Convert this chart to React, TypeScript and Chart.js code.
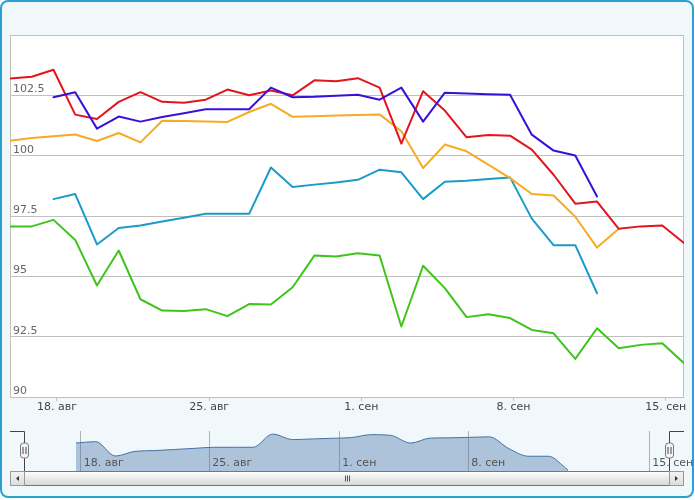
import { useEffect, useRef } from 'react';
import { Chart, registerables } from 'chart.js';

Chart.register(...registerables);

// daily values, one slot per day on the ordinal axis (null = no quote that day)
const redValues = [103.2, 103.27, 103.56, 101.7, 101.52, 102.23, 102.63, 102.23, 102.19, 102.32, 102.74, 102.5, 102.7, 102.5, 103.12, 103.08, 103.21, 102.82, 100.5, 102.67, 101.87, 100.76, 100.86, 100.83, 100.25, 99.21, 98.01, 98.1, 96.97, 97.07, 97.11, 96.38];
const blueValues = [null, null, 102.42, 102.63, 101.12, 101.62, 101.41, 101.6, 101.76, 101.92, 101.92, 101.92, 102.82, 102.42, 102.44, 102.48, 102.52, 102.32, 102.82, 101.41, 102.61, 102.58, 102.55, 102.52, 100.87, 100.21, 100.01, 98.31, null, null, null, null];
const orangeValues = [100.62, 100.73, 100.8, 100.88, 100.61, 100.94, 100.55, 101.45, 101.44, 101.42, 101.4, 101.81, 102.15, 101.61, 101.63, 101.66, 101.69, 101.71, 101.01, 99.49, 100.46, 100.18, 99.63, 99.07, 98.41, 98.35, 97.47, 96.19, 96.97, null, null, null];
const tealValues = [null, null, 98.2, 98.41, 96.32, 97.0, 97.11, 97.27, 97.43, 97.59, 97.59, 97.59, 99.51, 98.7, 98.8, 98.89, 99.0, 99.42, 99.31, 98.2, 98.92, 98.96, 99.03, 99.1, 97.39, 96.29, 96.29, 94.3, null, null, null, null];
const greenValues = [97.07, 97.07, 97.34, 96.51, 94.62, 96.07, 94.05, 93.58, 93.56, 93.64, 93.35, 93.85, 93.83, 94.55, 95.86, 95.82, 95.96, 95.86, 92.92, 95.44, 94.51, 93.31, 93.43, 93.27, 92.78, 92.64, 91.58, 92.85, 92.02, 92.16, 92.23, 91.4];

const xTickPositions = [2.16, 9.16, 16.16, 23.16, 30.16];
const xTickLabels = ['18. авг', '25. авг', '1. сен', '8. сен', '15. сен'];
const navTickPositions = [2.24, 8.77, 15.38, 21.93, 31.13];

const FONT = '"DejaVu Sans", Verdana, sans-serif';

const toPoints = (vals: (number | null)[]) => vals.map((y, x) => ({ x, y }));

const line = (data: (number | null)[], color: string) => ({
  data: toPoints(data),
  borderColor: color,
  backgroundColor: color,
  borderWidth: 2,
  pointRadius: 0,
  tension: 0,
  fill: false,
  borderJoinStyle: 'round' as const,
  borderCapStyle: 'round' as const,
});

const plotFrame = {
  id: 'plotFrame',
  beforeDraw(chart: any) {
    const { ctx, chartArea: a } = chart;
    ctx.save();
    ctx.fillStyle = '#ffffff';
    ctx.fillRect(a.left, a.top, a.width, a.height);
    ctx.strokeStyle = '#c0c0c0';
    ctx.lineWidth = 1;
    ctx.strokeRect(Math.round(a.left) + 0.5, Math.round(a.top) + 0.5, Math.round(a.width) - 1, Math.round(a.height));
    ctx.restore();
  },
};

function drawHandle(ctx: CanvasRenderingContext2D, cx: number, top: number) {
  ctx.beginPath();
  ctx.roundRect(cx - 4, top, 8, 15, 3);
  ctx.fillStyle = '#f4f4f4';
  ctx.fill();
  ctx.strokeStyle = '#777';
  ctx.stroke();
  ctx.beginPath();
  ctx.moveTo(cx - 1.5, top + 4);
  ctx.lineTo(cx - 1.5, top + 11);
  ctx.moveTo(cx + 1.5, top + 4);
  ctx.lineTo(cx + 1.5, top + 11);
  ctx.strokeStyle = '#444';
  ctx.stroke();
}

const navigatorDecor = {
  id: 'navigatorDecor',
  afterDatasetsDraw(chart: any) {
    const { ctx, chartArea: a, scales } = chart;
    ctx.save();
    ctx.font = `11px ${FONT}`;
    ctx.fillStyle = '#555';
    ctx.textAlign = 'left';
    ctx.textBaseline = 'middle';
    navTickPositions.forEach((v, i) => {
      ctx.fillText(xTickLabels[i], scales.x.getPixelForValue(v) + 3, a.bottom - 8);
    });

    const lh = Math.round(a.left) + 14.5;
    const rh = Math.round(a.right) - 14.5;
    const top = Math.round(a.top) + 0.5;
    const bottom = Math.round(a.bottom);
    ctx.strokeStyle = '#444';
    ctx.lineWidth = 1;
    ctx.beginPath();
    ctx.moveTo(a.left, top);
    ctx.lineTo(lh, top);
    ctx.lineTo(lh, bottom);
    ctx.moveTo(a.right, top);
    ctx.lineTo(rh, top);
    ctx.lineTo(rh, bottom);
    ctx.stroke();

    // scrollbar
    const sy = bottom + 0.5;
    const sh = 14;
    const left = Math.round(a.left) + 0.5;
    const right = Math.round(a.right) - 0.5;
    const track = ctx.createLinearGradient(0, sy, 0, sy + sh);
    track.addColorStop(0, '#eeeeee');
    track.addColorStop(1, '#ffffff');
    ctx.fillStyle = track;
    ctx.fillRect(left, sy, right - left, sh);
    ctx.strokeStyle = '#999';
    ctx.strokeRect(left, sy, right - left, sh);

    const thumb = ctx.createLinearGradient(0, sy, 0, sy + sh);
    thumb.addColorStop(0, '#ffffff');
    thumb.addColorStop(1, '#d6d6d6');
    ctx.fillStyle = thumb;
    ctx.fillRect(lh, sy, rh - lh, sh);
    ctx.strokeStyle = '#777';
    ctx.strokeRect(lh, sy, rh - lh, sh);

    const btn = ctx.createLinearGradient(0, sy, 0, sy + sh);
    btn.addColorStop(0, '#f4f4f4');
    btn.addColorStop(1, '#dcdcdc');
    ctx.fillStyle = btn;
    ctx.fillRect(left, sy, lh - left, sh);
    ctx.fillRect(rh, sy, right - rh, sh);
    ctx.strokeStyle = '#999';
    ctx.strokeRect(left, sy, lh - left, sh);
    ctx.strokeRect(rh, sy, right - rh, sh);

    ctx.fillStyle = '#333';
    const my = sy + sh / 2;
    const lc = (left + lh) / 2;
    const rc = (rh + right) / 2;
    ctx.beginPath();
    ctx.moveTo(lc - 1.5, my);
    ctx.lineTo(lc + 1.5, my - 2.5);
    ctx.lineTo(lc + 1.5, my + 2.5);
    ctx.closePath();
    ctx.fill();
    ctx.beginPath();
    ctx.moveTo(rc + 1.5, my);
    ctx.lineTo(rc - 1.5, my - 2.5);
    ctx.lineTo(rc - 1.5, my + 2.5);
    ctx.closePath();
    ctx.fill();

    const gc = Math.round((lh + rh) / 2) + 0.5;
    ctx.strokeStyle = '#555';
    ctx.beginPath();
    [-2, 0, 2].forEach((d) => {
      ctx.moveTo(gc + d, my - 3);
      ctx.lineTo(gc + d, my + 3);
    });
    ctx.stroke();

    drawHandle(ctx, lh, top + 11.5);
    drawHandle(ctx, rh, top + 11.5);
    ctx.restore();
  },
};

export default function App() {
  const mainRef = useRef<HTMLCanvasElement>(null);
  const navRef = useRef<HTMLCanvasElement>(null);

  useEffect(() => {
    if (!mainRef.current || !navRef.current) return;

    const main = new Chart(mainRef.current, {
      type: 'line',
      data: {
        datasets: [
          line(blueValues, '#3a10d8'),
          line(redValues, '#e2141c'),
          line(orangeValues, '#f6ab22'),
          line(tealValues, '#1b9bc8'),
          line(greenValues, '#3fc41b'),
        ],
      },
      options: {
        animation: false,
        responsive: false,
        layout: { padding: { left: 10, right: 11, top: 35, bottom: 0 } },
        plugins: { legend: { display: false }, tooltip: { enabled: false } },
        scales: {
          x: {
            type: 'linear',
            min: 0,
            max: 31,
            afterBuildTicks: (axis: any) => {
              axis.ticks = xTickPositions.map((value) => ({ value }));
            },
            afterFit: (axis: any) => {
              axis.height = 23;
            },
            grid: { drawOnChartArea: false, drawTicks: true, tickLength: 4, color: '#c0c0c0' },
            border: { display: false },
            ticks: {
              autoSkip: false,
              maxRotation: 0,
              padding: 0,
              color: '#444',
              font: { family: FONT, size: 11 },
              callback: (_v: any, i: number) => xTickLabels[i],
            },
          },
          y: {
            min: 90,
            max: 105,
            afterFit: (axis: any) => {
              axis.width = 0;
            },
            ticks: {
              stepSize: 2.5,
              mirror: true,
              padding: 3,
              labelOffset: -6,
              color: '#666',
              font: { family: FONT, size: 11 },
              callback: (v: any) => (v === 105 ? '' : String(v)),
            },
            grid: { color: '#c0c0c0', drawTicks: false },
            border: { display: false },
          },
        },
      },
      plugins: [plotFrame],
    });

    const nav = new Chart(navRef.current, {
      type: 'line',
      data: {
        datasets: [
          {
            data: toPoints(tealValues),
            borderColor: '#4572a7',
            backgroundColor: 'rgba(69,114,167,0.4)',
            borderWidth: 1,
            pointRadius: 0,
            cubicInterpolationMode: 'monotone',
            fill: 'start',
          },
        ],
      },
      options: {
        animation: false,
        responsive: false,
        layout: { padding: { left: 10, right: 11, top: 11, bottom: 29 } },
        plugins: { legend: { display: false }, tooltip: { enabled: false } },
        scales: {
          x: {
            type: 'linear',
            min: -1.354,
            max: 32.894,
            afterBuildTicks: (axis: any) => {
              axis.ticks = navTickPositions.map((value) => ({ value }));
            },
            afterFit: (axis: any) => {
              axis.height = 0;
            },
            grid: { color: '#b0b0b0', drawTicks: false },
            border: { display: false },
            ticks: { display: false },
          },
          y: { display: false, min: 94.15, max: 99.95 },
        },
      },
      plugins: [navigatorDecor],
    });

    return () => {
      main.destroy();
      nav.destroy();
    };
  }, []);

  return (
    <div style={{ position: 'fixed', left: 0, top: 0, width: 695, height: 500, background: '#fff' }}>
      <div
        style={{
          position: 'absolute',
          left: 0,
          top: 0,
          width: 694,
          height: 498,
          boxSizing: 'border-box',
          border: '2px solid #2c9fd3',
          borderRadius: 8,
          background: '#f0f8fc',
        }}
      />
      <canvas ref={mainRef} width={695} height={420} style={{ position: 'absolute', left: 0, top: 0, width: 695, height: 420 }} />
      <canvas ref={navRef} width={695} height={80} style={{ position: 'absolute', left: 0, top: 420, width: 695, height: 80 }} />
    </div>
  );
}
